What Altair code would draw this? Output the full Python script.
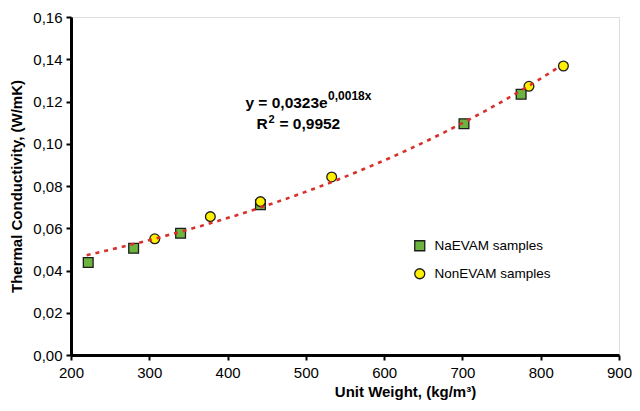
import altair as alt
import pandas as pd

# ---- data ----
series_names = ["NaEVAM samples", "NonEVAM samples"]
na_x = [222, 280, 340, 442, 702, 775]
na_y = [0.0438, 0.0505, 0.0576, 0.0711, 0.1095, 0.1234]
non_x = [307, 378, 442, 533, 785, 829]
non_y = [0.0550, 0.0655, 0.0726, 0.0843, 0.1272, 0.1368]

x_ticks = [200, 300, 400, 500, 600, 700, 800, 900]
y_ticks = [0.0, 0.02, 0.04, 0.06, 0.08, 0.10, 0.12, 0.14, 0.16]

# annotation (equation) pieces
ann_text = ["y = 0,0323e", "0,0018x", "R", "2", "= 0,9952"]
ann_x = [422.8, 528.4, 437.1, 452.4, 466.3]
ann_y = [0.1168, 0.1207, 0.1072, 0.1098, 0.1072]
ann_size = [15.5, 12, 15.5, 11, 15.5]

df = pd.DataFrame({
    "x": na_x + non_x,
    "y": na_y + non_y,
    "series": [series_names[0]] * len(na_x) + [series_names[1]] * len(non_x),
})
ann = pd.DataFrame({"x": ann_x, "y": ann_y, "t": ann_text, "fs": ann_size})

FONT = "Liberation Sans"

xs = alt.Scale(domain=[200, 900], nice=False, zero=False)
ys = alt.Scale(domain=[0, 0.16], nice=False)

x_axis = alt.Axis(
    values=x_ticks, title="Unit Weight, (kg/m³)", grid=False,
    domainColor="black", domainWidth=3, tickColor="black", tickWidth=2, tickSize=5,
    labelFont=FONT, labelFontSize=15, labelColor="black", labelPadding=5,
    labelFlush=False,
    titleFont=FONT, titleFontSize=15, titleFontWeight="bold", titleColor="black",
    titleX=334, titleY=36, titleBaseline="middle", titleAlign="center",
)
y_axis = alt.Axis(
    values=y_ticks, title="Thermal Conductivity, (W/mK)", grid=False,
    labelExpr="replace(format(datum.value, '.2f'), '.', ',')",
    domainColor="black", domainWidth=3, tickColor="black", tickWidth=2, tickSize=5,
    labelFont=FONT, labelFontSize=15, labelColor="black", labelPadding=4,
    labelFlush=False,
    titleFont=FONT, titleFontSize=15, titleFontWeight="bold", titleColor="black",
    titleX=-55, titleY=169, titleAngle=-90, titleBaseline="middle", titleAlign="center",
)

X = alt.X("x:Q", scale=xs, axis=x_axis)
Y = alt.Y("y:Q", scale=ys, axis=y_axis)

points = alt.Chart(df).mark_point(filled=True, opacity=1, stroke="#1c1c1c", strokeWidth=1.3, size=95).encode(
    x=X, y=Y,
    color=alt.Color("series:N", scale=alt.Scale(domain=series_names, range=["#6db33f", "#fff000"]),
                    legend=alt.Legend(
                        orient="none", legendX=342, legendY=222, title=None, padding=0,
                        symbolSize=100, symbolStrokeColor="#1c1c1c", symbolStrokeWidth=1.3,
                        labelFont=FONT, labelFontSize=13.5, labelColor="black",
                        labelOffset=8, rowPadding=12,
                    )),
    shape=alt.Shape("series:N", scale=alt.Scale(domain=series_names, range=["square", "circle"])),
)

trend = alt.Chart(df).transform_regression(
    "x", "y", method="exp", extent=[220, 825]
).mark_line(color="#d8302b", strokeWidth=2.6, strokeDash=[4, 5]).encode(x=X, y=Y)

txt = alt.Chart(ann).mark_text(align="left", baseline="alphabetic", font=FONT,
                               fontWeight="bold", color="black").encode(
    x=X, y=Y, text="t:N", size=alt.Size("fs:Q", scale=None, legend=None))

chart = alt.layer(points, trend, txt).properties(
    width=548, height=338,
    padding={"left": 63, "top": 9, "right": 13, "bottom": 45},
    autosize=alt.AutoSizeParams(type="none"),
).configure_view(stroke=None).configure(background="white")

chart.save("out.html", embed_options={"renderer": "svg", "actions": False})
